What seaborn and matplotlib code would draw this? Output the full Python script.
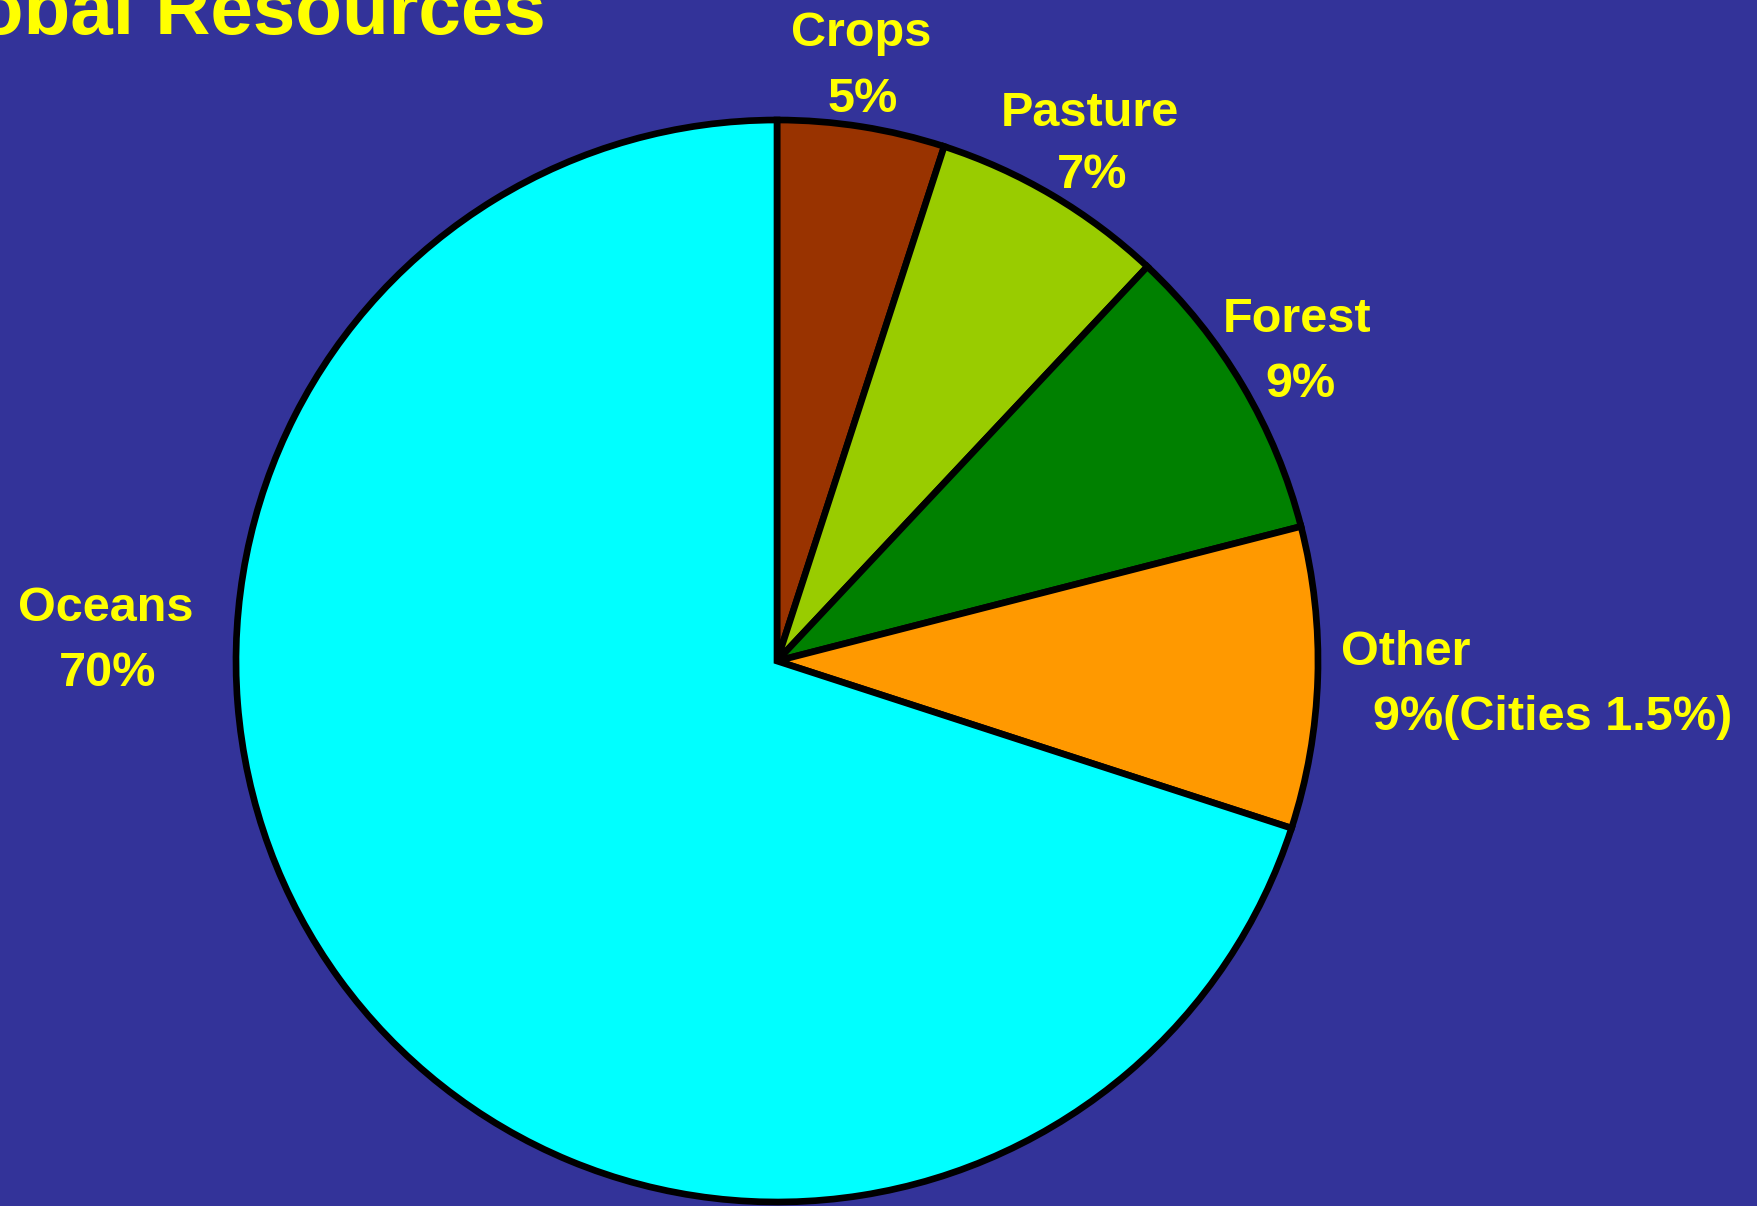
import matplotlib
matplotlib.use("Agg")
import matplotlib.pyplot as plt
import seaborn as sns

categories = ["Crops", "Pasture", "Forest", "Other", "Oceans"]
shares = [5, 7, 9, 9, 70]
pct_labels = ["5%", "7%", "9%", "9%(Cities 1.5%)", "70%"]
colors = ["#993300", "#99CC00", "#008000", "#FF9900", "#00FFFF"]
title = "Global Resources"

sns.set_theme(style="white")
plt.rcParams["font.family"] = ["Liberation Sans", "DejaVu Sans"]

W, H = 1758, 1206
fig = plt.figure(figsize=(W / 100, H / 100), dpi=100, facecolor="#333399")
ax = fig.add_axes([0, 0, 1, 1])
ax.set_facecolor("#333399")

cx, cy, r = 777, H - 661, 541
ax.pie(shares, colors=colors, startangle=90, counterclock=False,
       center=(cx, cy), radius=r, frame=True,
       wedgeprops=dict(edgecolor="black", linewidth=4.8))
ax.set_xlim(0, W)
ax.set_ylim(0, H)
ax.set_aspect("equal")
ax.axis("off")

yellow = "#FFFF00"
fs = 35
dy = 4
# label positions (pixel coordinates, y from top): name line, percent line
name_pos = {"Crops": (861, 30, "center"), "Pasture": (1090, 109, "center"),
            "Forest": (1297, 316, "center"), "Other": (1341, 649, "left"),
            "Oceans": (106, 605, "center")}
pct_pos = {"Crops": (863, 95, "center"), "Pasture": (1092, 172, "center"),
           "Forest": (1300, 381, "center"), "Other": (1373, 714, "left"),
           "Oceans": (108, 670, "center")}
for cat, pl in zip(categories, pct_labels):
    x, y, ha = name_pos[cat]
    ax.text(x, H - y - dy, cat, color=yellow, fontsize=fs, fontweight="bold",
            ha=ha, va="center")
    x, y, ha = pct_pos[cat]
    ax.text(x, H - y - dy, pl, color=yellow, fontsize=fs, fontweight="bold",
            ha=ha, va="center")

ax.text(546, H - 34, title, color=yellow, fontsize=55, fontweight="bold",
        ha="right", va="baseline")

fig.savefig("out.png", dpi=100, facecolor=fig.get_facecolor())
